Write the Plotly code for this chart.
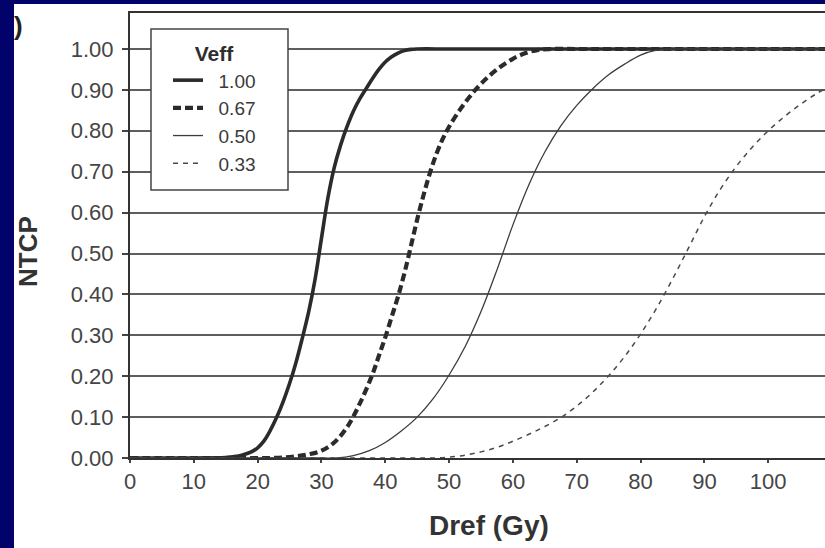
import plotly.graph_objects as go

# ---- data (NTCP vs Dref, one series per Veff) ----
veff_labels = ["1.00", "0.67", "0.50", "0.33"]

dose_100 = [0, 7, 14, 15, 16, 17, 18, 19, 20, 21, 22, 23, 24, 25, 26, 27, 28, 29, 30, 31, 32, 33, 34, 35, 36, 37, 38, 39, 40, 41, 42, 43, 44, 45, 50, 60, 70, 80, 90, 100, 110]
ntcp_100 = [0, 0, 0.0005, 0.001, 0.003, 0.005, 0.009, 0.015, 0.025, 0.042, 0.068, 0.100, 0.138, 0.182, 0.233, 0.293, 0.358, 0.437, 0.537, 0.635, 0.710, 0.765, 0.810, 0.848, 0.878, 0.903, 0.928, 0.950, 0.968, 0.981, 0.990, 0.996, 0.999, 1.0, 1.0, 1.0, 1.0, 1.0, 1.0, 1.0, 1.0]

dose_067 = [0, 10, 20, 22, 24, 26, 28, 30, 32, 34, 36, 38, 39, 40, 41, 42, 43, 44, 45, 46, 47, 48, 49, 50, 52, 54, 56, 58, 60, 62, 64, 66, 70, 80, 90, 100, 110]
ntcp_067 = [0, 0, 0, 0.0, 0.001, 0.004, 0.009, 0.018, 0.038, 0.075, 0.133, 0.205, 0.250, 0.295, 0.345, 0.395, 0.452, 0.517, 0.583, 0.643, 0.697, 0.743, 0.780, 0.810, 0.858, 0.898, 0.930, 0.956, 0.976, 0.990, 0.998, 1.0, 1.0, 1.0, 1.0, 1.0, 1.0]

dose_050 = [0, 15, 30, 32.5, 35, 37.5, 40, 42.5, 45, 47.5, 50, 52.5, 55, 57.5, 60, 62.5, 65, 67.5, 70, 72.5, 75, 77.5, 80, 82.5, 85, 90, 100, 110]
ntcp_050 = [0, 0, 0, 0.0, 0.006, 0.018, 0.038, 0.066, 0.100, 0.145, 0.203, 0.272, 0.358, 0.460, 0.570, 0.668, 0.748, 0.812, 0.862, 0.903, 0.937, 0.963, 0.985, 0.997, 1.0, 1.0, 1.0, 1.0]

dose_033 = [0, 15, 30, 40, 45, 47.5, 50, 52.5, 55, 57.5, 60, 62.5, 65, 67.5, 70, 72.5, 75, 77.5, 80, 82.5, 85, 87.5, 90, 92.5, 95, 97.5, 100, 102.5, 105, 107.5, 110]
ntcp_033 = [0, 0, 0, 0, 0, 0.0, 0.002, 0.007, 0.015, 0.026, 0.041, 0.058, 0.077, 0.099, 0.127, 0.161, 0.201, 0.248, 0.303, 0.366, 0.437, 0.513, 0.590, 0.657, 0.713, 0.760, 0.800, 0.834, 0.864, 0.890, 0.912]

x_ticks = [0, 10, 20, 30, 40, 50, 60, 70, 80, 90, 100]
y_ticks = [0.0, 0.1, 0.2, 0.3, 0.4, 0.5, 0.6, 0.7, 0.8, 0.9, 1.0]

# ---- figure ----
W, H = 825, 548
ML, MR, MT, MB = 130, 0, 13, 90
PW, PH = W - ML - MR, H - MT - MB
FONT = "Liberation Sans, Arial, sans-serif"
NAVY = "#02026b"
NBSP = "\u00a0"


def px_x(p):
    return (p - ML) / PW


def px_y(p):
    return (H - MB - p) / PH


fig = go.Figure()
series = [
    (dose_100, ntcp_100, dict(color="#2b2b2b", width=3.6, dash="solid")),
    (dose_067, ntcp_067, dict(color="#2b2b2b", width=4.2, dash="8px,4px")),
    (dose_050, ntcp_050, dict(color="#3c3c3c", width=1.3, dash="solid")),
    (dose_033, ntcp_033, dict(color="#4a4a4a", width=1.5, dash="5px,5px")),
]
for (xs, ys, ln), name in zip(series, veff_labels):
    fig.add_trace(go.Scatter(x=xs, y=ys, mode="lines", name=NBSP * 2 + name,
                             line=dict(shape="spline", smoothing=1.0, simplify=False, **ln)))

fig.update_layout(
    width=W, height=H,
    margin=dict(l=ML, r=MR, t=MT, b=MB),
    paper_bgcolor="white", plot_bgcolor="white",
    font=dict(family=FONT, color="#3a3a3a", size=22),
    showlegend=True,
    legend=dict(
        x=px_x(168), y=px_y(34), xanchor="left", yanchor="top",
        bgcolor="rgba(0,0,0,0)", borderwidth=0,
        font=dict(size=19, color="#3a3a3a"),
        title=dict(text="<b>Veff</b>", side="top center", font=dict(size=21, color="#2e2e2e")),
        tracegroupgap=0,
    ),
    xaxis=dict(
        range=[0, 108.9], tickvals=x_ticks, ticktext=[str(v) for v in x_ticks],
        showgrid=False, zeroline=False,
        showline=True, linecolor="#333", linewidth=2, mirror=True,
        ticks="outside", ticklen=3, tickcolor="#444", tickwidth=1.5,
        tickfont=dict(size=22, color="#454545"),
    ),
    yaxis=dict(
        range=[0, 1.088], tickvals=y_ticks, ticktext=[f"{v:.2f}" for v in y_ticks],
        showgrid=True, gridcolor="#5e5e5e", gridwidth=1.6, zeroline=False,
        showline=True, linecolor="#333", linewidth=2,
        ticks="outside", ticklen=6, tickcolor="#444", tickwidth=1.5,
        ticklabelstandoff=4,
        tickfont=dict(size=22, color="#454545"),
    ),
    annotations=[
        dict(text="<b>Dref (Gy)</b>", xref="paper", yref="paper", x=px_x(489), y=px_y(525),
             showarrow=False, xanchor="center", yanchor="middle",
             font=dict(size=28, color="#333")),
        dict(text="<b>NTCP</b>", xref="paper", yref="paper", x=px_x(28), y=px_y(252),
             showarrow=False, xanchor="center", yanchor="middle", textangle=-90,
             font=dict(size=26, color="#333")),
        dict(text="<b>)</b>", xref="paper", yref="paper", x=px_x(18), y=px_y(26),
             showarrow=False, xanchor="center", yanchor="middle",
             font=dict(size=26, color="#222")),
    ],
    shapes=[
        # legend frame
        dict(type="rect", xref="paper", yref="paper", x0=px_x(151), x1=px_x(288), y0=px_y(190), y1=px_y(29),
             fillcolor="white", line=dict(color="#444", width=1.5), layer="above"),
        # navy slide border (left / top)
        dict(type="rect", xref="paper", yref="paper", x0=px_x(0), x1=px_x(14), y0=px_y(H), y1=px_y(0),
             fillcolor=NAVY, line=dict(width=0), layer="above"),
        dict(type="rect", xref="paper", yref="paper", x0=px_x(0), x1=px_x(W), y0=px_y(4), y1=px_y(0),
             fillcolor=NAVY, line=dict(width=0), layer="above"),
    ],
)

fig.write_html("out.html")
